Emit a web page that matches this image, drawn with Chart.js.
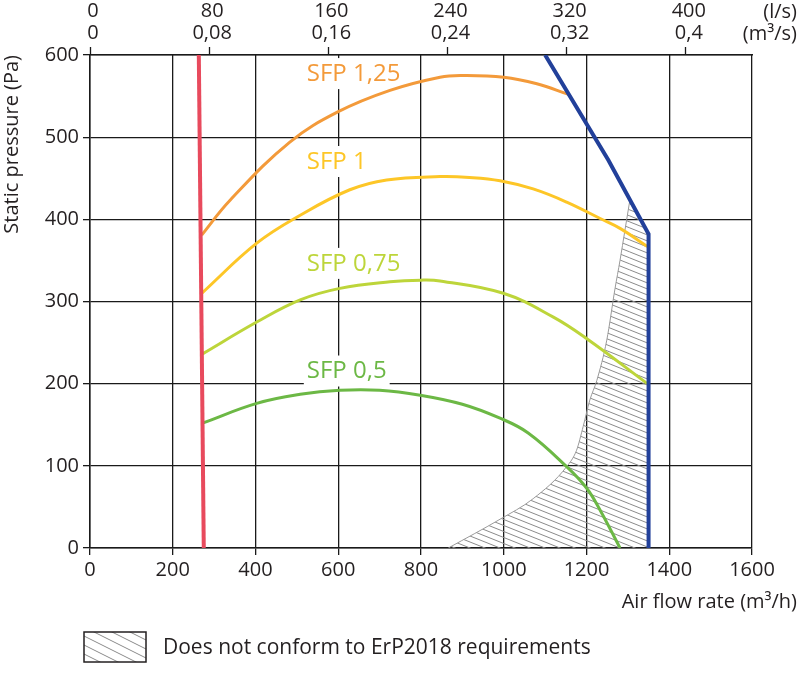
<!DOCTYPE html>
<html><head><meta charset="utf-8">
<script src="https://cdn.jsdelivr.net/npm/chart.js@4.4.0/dist/chart.umd.min.js"></script>
<style>html,body{margin:0;padding:0;background:#fff;}</style>
</head><body>
<canvas id="c" width="809" height="673"></canvas>
<script>
// ---- data ----
const topLs = [0, 80, 160, 240, 320, 400];           // l/s
const topM3s = ['0', '0,08', '0,16', '0,24', '0,32', '0,4']; // m3/s

const sfp125X = [270, 338, 483, 600, 725, 846, 900, 1000, 1080, 1157];
const sfp125Y = [381, 423, 494, 531, 557, 573, 575, 573, 565, 552];

const sfp1X = [270, 403, 508, 628, 717, 846, 917, 991, 1071, 1152, 1233, 1281, 1347];
const sfp1Y = [310, 371, 405, 436, 448, 452, 451, 447, 437, 421, 401, 389, 367];

const sfp075X = [271, 403, 508, 604, 725, 800, 846, 999, 1120, 1200, 1347];
const sfp075Y = [236, 275, 302, 316, 324, 326, 325, 310, 281, 255, 200];

const sfp05X = [272, 403, 508, 604, 700, 798, 900, 991, 1059, 1152, 1200, 1233, 1281];
const sfp05Y = [152, 176, 187, 192, 192, 186, 175, 158, 140, 99, 73, 46, 0];

const minX = [263, 275];
const minY = [600, 0];

const maxX = [1100, 1253, 1350, 1350];
const maxY = [600, 472, 382, 0];

const erpX = [866, 991, 1071, 1152, 1176, 1192, 1208, 1225, 1249, 1269, 1281, 1293, 1305];
const erpY = [0, 35, 60, 99, 119, 148, 180, 204, 253, 316, 350, 387, 424];
const erpCapX = [1305, 1350];
const erpCapY = [424, 382];

const sfpNames = ['SFP 1,25', 'SFP 1', 'SFP 0,75', 'SFP 0,5'];
const legendText = 'Does not conform to ErP2018 requirements';

// ---- helpers ----
const pts = (xs, ys) => xs.map((x, i) => ({x: x, y: ys[i]}));
const FONT = '"Open Sans", "DejaVu Sans", sans-serif';
const TXT = '#231f20';
const GRID = '#1a1a1a';

function makeHatch(w, h, color, lw) {
  const c = document.createElement('canvas');
  c.width = w; c.height = h;
  const g = c.getContext('2d');
  g.strokeStyle = color; g.lineWidth = lw;
  g.beginPath();
  for (const dy of [-h, 0, h]) {
    g.moveTo(-w, dy - h); g.lineTo(2 * w, dy + 2 * h);
  }
  g.stroke();
  return g.createPattern(c, 'repeat');
}
const hatch = makeHatch(15, 6, '#8a8a8a', 1);
const hatchLegend = makeHatch(18, 9, '#8a8a8a', 1);

const colors = {
  o: '#f39a3a', y: '#fdc627', lg: '#bdd53a', g: '#6cb845', r: '#e84a5d', b: '#22409a'
};

const labelPlugin = {
  id: 'labels',
  beforeDatasetsDraw(chart) {
    const ctx = chart.ctx;
    const xs = chart.scales.x, ys = chart.scales.y;
    const anchors = [[524, 578], [524, 471], [524, 347], [524, 216]];
    const cols = [colors.o, colors.y, colors.lg, colors.g];
    ctx.save();
    ctx.font = '24px ' + FONT;
    ctx.textBaseline = 'middle';
    ctx.textAlign = 'left';
    anchors.forEach((a, i) => {
      const px = xs.getPixelForValue(a[0]);
      const py = ys.getPixelForValue(a[1]);
      const w = ctx.measureText(sfpNames[i]).width;
      ctx.fillStyle = '#fff';
      ctx.fillRect(px - 3, py - 15, w + 6, 31);
      ctx.fillStyle = cols[i];
      ctx.fillText(sfpNames[i], px, py + 1);
    });
    ctx.restore();
  },
  afterDraw(chart) {
    const ctx = chart.ctx;
    const area = chart.chartArea;
    ctx.save();
    ctx.fillStyle = TXT;
    ctx.font = '20px ' + FONT;
    ctx.textAlign = 'right';
    ctx.textBaseline = 'middle';
    ctx.fillText('(l/s)', 797, 12);
    ctx.fillText('(m³/s)', 797, 34);
    ctx.fillText('Air flow rate (m³/h)', 797, area.bottom + 54);
    // legend
    const lx = area.left - 6, ly = area.bottom + 84;
    ctx.fillStyle = '#fff';
    ctx.fillRect(lx, ly, 62, 30);
    ctx.fillStyle = hatchLegend;
    ctx.fillRect(lx, ly, 62, 30);
    ctx.strokeStyle = TXT; ctx.lineWidth = 1.5;
    ctx.strokeRect(lx, ly, 62, 30);
    ctx.fillStyle = TXT;
    ctx.font = '21px ' + FONT;
    ctx.textAlign = 'left';
    ctx.fillText(legendText, lx + 79, ly + 16);
    ctx.restore();
  }
};

const curve = (label, xs, ys, col, order) => ({
  label: label, data: pts(xs, ys), borderColor: col, borderWidth: 3,
  showLine: true, pointRadius: 0, fill: false, tension: 0.4, order: order
});

new Chart(document.getElementById('c'), {
  type: 'scatter',
  data: {
    datasets: [
      {label: 'min', data: pts(minX, minY), borderColor: colors.r, borderWidth: 4, showLine: true, pointRadius: 0, tension: 0, order: 0},
      {label: 'max', data: pts(maxX, maxY), borderColor: colors.b, borderWidth: 4, showLine: true, pointRadius: 0, tension: 0, order: 0,
       borderJoinStyle: 'miter'},
      curve(sfpNames[0], sfp125X, sfp125Y, colors.o, 1),
      curve(sfpNames[1], sfp1X, sfp1Y, colors.y, 1),
      curve(sfpNames[2], sfp075X, sfp075Y, colors.lg, 1),
      curve(sfpNames[3], sfp05X, sfp05Y, colors.g, 1),
      {label: 'ErP', data: pts(erpX, erpY), borderColor: '#9a9a9a', borderWidth: 1, showLine: true, pointRadius: 0,
       cubicInterpolationMode: 'monotone', fill: 'origin', backgroundColor: hatch, order: 5},
      {label: 'ErP cap', data: pts(erpCapX, erpCapY), borderWidth: 0, borderColor: 'rgba(0,0,0,0)', showLine: true, pointRadius: 0,
       tension: 0, fill: 'origin', backgroundColor: hatch, order: 5}
    ]
  },
  options: {
    responsive: false, animation: false, devicePixelRatio: 1,
    layout: {padding: {left: 0, right: 57, top: 0, bottom: 0}},
    plugins: {legend: {display: false}, tooltip: {enabled: false}},
    scales: {
      x: {
        type: 'linear', position: 'bottom', min: 0, max: 1600,
        ticks: {stepSize: 200, color: TXT, font: {family: FONT, size: 20}, padding: 3, maxRotation: 0,
                callback: v => String(v)},
        grid: {color: GRID, lineWidth: 1.3, tickLength: 7, tickColor: GRID, tickWidth: 1.3},
        border: {color: GRID, width: 1.5},
        afterFit(s) { s.height = 125; }
      },
      x2: {
        type: 'linear', position: 'top', min: 0, max: 1600,
        afterBuildTicks(s) { s.ticks = topLs.map(v => ({value: v * 3.6})); },
        ticks: {
          color: TXT, font: {family: FONT, size: 20, lineHeight: 1.1}, padding: 3, maxRotation: 0, labelOffset: 3,
          autoSkip: false,
          callback: (v, i) => [String(topLs[i]), topM3s[i]]
        },
        grid: {drawOnChartArea: false, tickLength: 8, tickColor: GRID, tickWidth: 1.3, color: GRID},
        border: {color: GRID, width: 1.5},
        afterFit(s) { s.height = 55; }
      },
      y: {
        min: 0, max: 600,
        ticks: {stepSize: 100, color: TXT, font: {family: FONT, size: 20}, padding: 4},
        grid: {color: GRID, lineWidth: 1.3, tickLength: 7, tickColor: GRID, tickWidth: 1.3},
        border: {color: GRID, width: 1.5},
        title: {display: true, text: 'Static pressure (Pa)', align: 'end', color: TXT,
                font: {family: FONT, size: 20}, padding: 0},
        afterFit(s) { s.width = 90; }
      }
    }
  },
  plugins: [labelPlugin]
});
</script>
</body></html>
